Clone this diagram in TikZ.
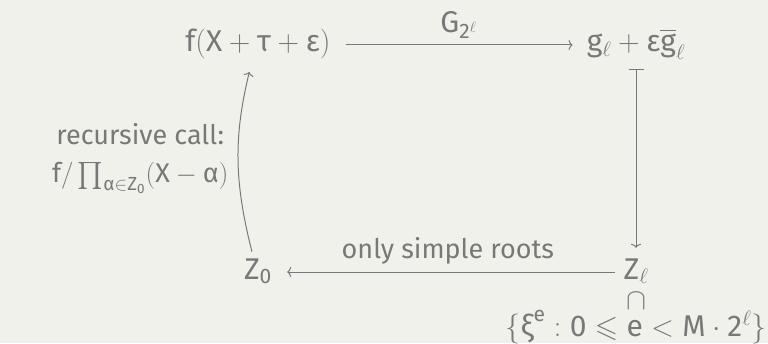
\RequirePackage{fix-cm}
\documentclass[tikz,border=0pt]{standalone}
\usepackage{amsmath}
\usepackage{amssymb}
\usepackage{fontspec}
\setmainfont{Fira Sans}
\usepackage{tikz}
\usetikzlibrary{arrows.meta,positioning}

\definecolor{slide}{RGB}{241,241,236}
\definecolor{ink}{RGB}{120,120,120}
\newcommand{\mathsz}{\fontsize{30}{36}\selectfont}

\begin{document}
\begin{tikzpicture}[
    x=1pt, y=1pt,
    font=\fontsize{27}{34}\selectfont,
    obj/.style={text=ink, font=\mathsz, text height=24pt, text depth=10pt, inner sep=3pt},
    arr/.style={draw=ink, line width=1pt, -{To[length=4pt,width=10pt]}},
    note/.style={text=ink, align=center}
]

\path[fill=slide, use as bounding box] (0,0) rectangle (768,343);

\node[obj] (fshift) at (258,298) {$\mathrm{f}(\mathrm{X}+\text{τ}+\text{ε})$};
\node[obj] (gl) at (636,298) {$\mathrm{g}_\ell+\text{ε}\overline{\mathrm{g}}_\ell$};
\node[obj] (zzero) at (258,71) {$\mathrm{Z}_{\mathrm{0}}$};
\node[obj] (zl) at (636,71) {$\mathrm{Z}_\ell$};
\node[text=ink, font=\mathsz, inner sep=0pt, anchor=base] (incl) at ([yshift=-30pt]zl.base) {$\cap$};
\node[text=ink, font=\mathsz, inner sep=0pt, anchor=base] (roots) at ([yshift=-27pt]incl.base) {$\{\text{ξ}^{\mathrm{e}}:\mathrm{0}\leqslant\mathrm{e}<\mathrm{M}\cdot\mathrm{2}^\ell\}$};

% Arrows
\draw[arr, shorten <=12pt, shorten >=11pt] (fshift) -- node[note, font=\mathsz, above=3pt] {$\mathrm{G}_{\mathrm{2}^\ell}$} (gl);
\draw[arr, {Bar[width=15pt]}-{To[length=4pt,width=10pt]}, shorten <=4pt, shorten >=4pt] (gl) -- (zl);
\draw[arr, shorten <=5pt, shorten >=12pt] (zl) -- node[note, above=4pt] {only simple roots} (zzero);
\draw[arr, shorten >=7pt] ([xshift=-6pt]zzero.north) to[bend left=14]
    node[note, left=6pt] {recursive call:\\[4pt]$\mathrm{f}/\prod_{\text{α}\in\mathrm{Z}_{\mathrm{0}}}(\mathrm{X}-\text{α})$}
    ([xshift=-7pt]fshift.south);

\end{tikzpicture}
\end{document}
